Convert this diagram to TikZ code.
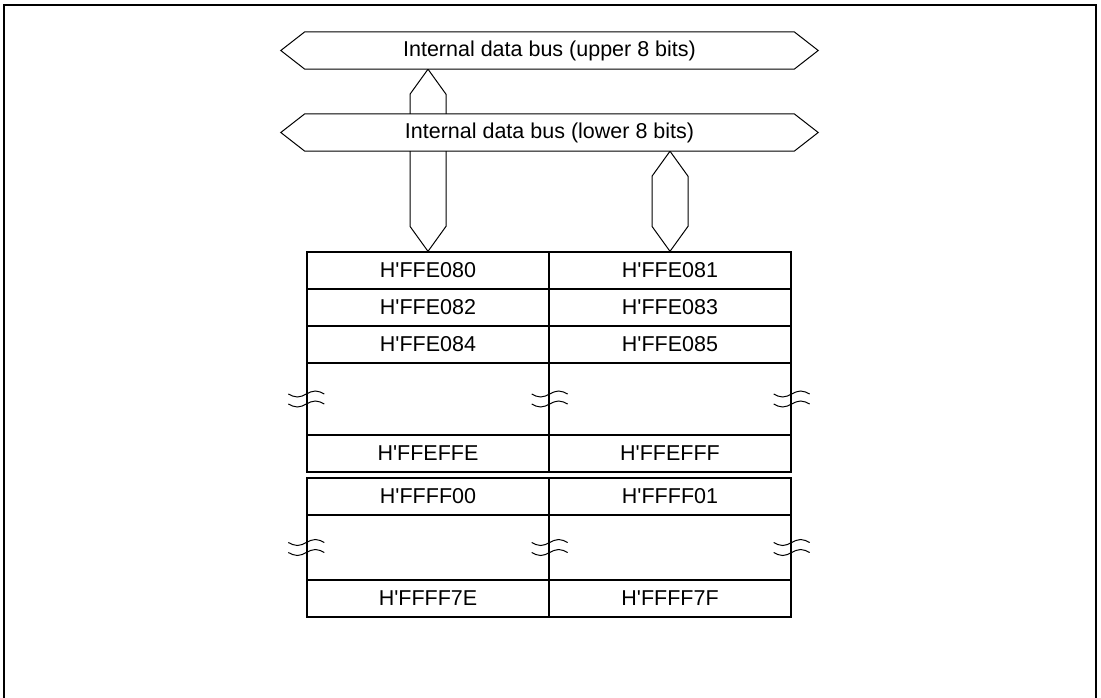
\documentclass[tikz,border=0pt]{standalone}
\usepackage{fontspec}
\setmainfont{Liberation Sans}
\usepackage{tikz}
\usetikzlibrary{positioning, backgrounds, calc}

\begin{document}
\begin{tikzpicture}[x=1pt, y=-1pt,
  frame/.style={line width=1.6pt},
  busbody/.style={rectangle, fill=white, inner sep=0pt, minimum width=489pt,
    minimum height=37pt, font=\fontsize{21.5}{25}\selectfont},
  busline/.style={line width=1pt},
  cell/.style={rectangle, draw, line width=1.3pt, inner sep=0pt,
    minimum width=242pt, minimum height=37pt, font=\fontsize{21.5}{25}\selectfont},
  brkcell/.style={cell, minimum height=72pt},
  brk/.style={line width=1pt}
]
  \useasboundingbox (0,0) rectangle (1101,697);
  \draw[frame] (4,700) -- (4,5) -- (1096,5) -- (1096,700);

  % internal buses
  \node[busbody] (ubus) at (549.5,50.5) {Internal data bus (upper 8 bits)};
  \node[busbody] (lbus) at (549.5,132.5) {Internal data bus (lower 8 bits)};
  \draw[busline] (ubus.north west) -- (ubus.north east) -- ([xshift=24pt]ubus.east)
    -- (ubus.south east) -- (ubus.south west) -- ([xshift=-24pt]ubus.west) -- cycle;
  \draw[busline] (lbus.north west) -- (lbus.north east) -- ([xshift=24pt]lbus.east)
    -- (lbus.south east) -- (lbus.south west) -- ([xshift=-24pt]lbus.west) -- cycle;

  % first block
  \node[cell] (c1l) at (428,270.5) {H\textquotesingle FFE080};
  \node[cell] (c1r) at (670,270.5) {H\textquotesingle FFE081};
  \node[cell] (c2l) at (428,307.5) {H\textquotesingle FFE082};
  \node[cell] (c2r) at (670,307.5) {H\textquotesingle FFE083};
  \node[cell] (c3l) at (428,344.5) {H\textquotesingle FFE084};
  \node[cell] (c3r) at (670,344.5) {H\textquotesingle FFE085};
  \node[brkcell] (b1l) at (428,399) {};
  \node[brkcell] (b1r) at (670,399) {};
  \node[cell] (c4l) at (428,453.5) {H\textquotesingle FFEFFE};
  \node[cell] (c4r) at (670,453.5) {H\textquotesingle FFEFFF};

  % second block
  \node[cell] (c5l) at (428,496.5) {H\textquotesingle FFFF00};
  \node[cell] (c5r) at (670,496.5) {H\textquotesingle FFFF01};
  \node[brkcell, minimum height=65pt] (b2l) at (428,547.5) {};
  \node[brkcell, minimum height=65pt] (b2r) at (670,547.5) {};
  \node[cell] (c6l) at (428,598.5) {H\textquotesingle FFFF7E};
  \node[cell] (c6r) at (670,598.5) {H\textquotesingle FFFF7F};

  % break marks
  \foreach \n in {b1l.west, b1l.east, b1r.east, b2l.west, b2l.east, b2r.east}
    \foreach \d in {-5,5}
      \draw[brk] ([shift={(-18,\d)}]\n) sin ++(9,3) cos ++(9,-3) sin ++(9,-3) cos ++(9,3);

  % buses to the table
  \begin{pgfonlayer}{background}
    \draw[busline] (c1l |- ubus.south) -- ++(18,25) -- ($(c1l.north)+(18,-25)$)
      -- (c1l.north) -- ++(-18,-25) -- ($(c1l |- ubus.south)+(-18,25)$) -- cycle;
    \draw[busline] (c1r |- lbus.south) -- ++(18,25) -- ($(c1r.north)+(18,-25)$)
      -- (c1r.north) -- ++(-18,-25) -- ($(c1r |- lbus.south)+(-18,25)$) -- cycle;
  \end{pgfonlayer}
\end{tikzpicture}
\end{document}
